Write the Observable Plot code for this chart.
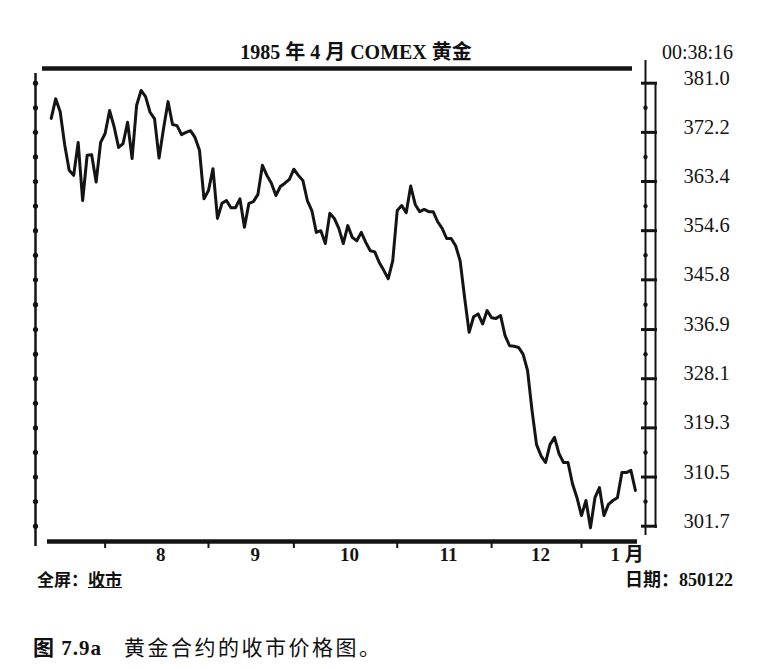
<!DOCTYPE html>
<html>
<head>
<meta charset="utf-8">
<script src="https://cdn.jsdelivr.net/npm/d3@7"></script>
<script src="https://cdn.jsdelivr.net/npm/@observablehq/plot@0.6"></script>
<style>
  body { margin: 0; background: #fff; }
  #wrap { position: relative; width: 782px; height: 669px; color: #111; font-family: "Liberation Serif", "Noto Sans CJK SC", serif; }
  #wrap .t { position: absolute; white-space: nowrap; line-height: 1; }
  #chart { position: absolute; left: 0; top: 0; }
  .cjk { font-family: "Noto Sans CJK SC", sans-serif; }
</style>
</head>
<body>
<div id="wrap">
  <div id="chart"></div>
  <div class="t" style="left:0;width:712px;top:41px;text-align:center;font-weight:bold;font-size:20px;">1985 <span class="cjk">年</span> 4 <span class="cjk">月</span> COMEX <span class="cjk">黄金</span></div>
  <div class="t" style="right:49px;top:42px;font-size:20px;">00:38:16</div>
  <div class="t" style="left:37px;top:570px;font-size:17px;font-weight:bold;"><span class="cjk">全屏：</span><span class="cjk" style="text-decoration:underline;">收市</span></div>
  <div class="t" style="right:49px;top:569px;font-size:18px;font-weight:bold;"><span class="cjk">日期：</span>850122</div>
  <div class="t" style="left:33px;top:636px;font-size:21px;"><b style="letter-spacing:1px;"><span class="cjk">图</span> 7.9a</b><span class="cjk" style="margin-left:22px;letter-spacing:2.5px;">黄金合约的收市价格图。</span></div>
</div>
<script>
// daily closes, mid-July 1984 to mid-January 1985 (trading days)
const closes = [
  374.7, 378.2, 375.9, 370.0, 365.4, 364.5, 370.4, 360.0, 368.1, 368.2,
  363.3, 370.4, 372.0, 376.1, 373.2, 369.5, 370.2, 374.0, 367.5, 377.0,
  379.7, 378.6, 375.8, 374.6, 367.6, 372.9, 377.7, 373.6, 373.4, 371.8,
  372.2, 372.5, 371.3, 369.0, 360.3, 361.8, 365.7, 356.8, 359.5, 360.0,
  358.7, 358.7, 360.3, 355.2, 359.5, 359.8, 361.1, 366.3, 364.5, 363.1,
  360.9, 362.5, 363.1, 363.8, 365.6, 364.5, 363.6, 360.0, 358.2, 354.3,
  354.6, 352.3, 357.7, 356.8, 355.0, 352.3, 355.5, 353.4, 352.8, 354.3,
  352.5, 351.0, 350.8, 348.9, 347.5, 346.0, 349.2, 358.2, 359.1, 357.8,
  362.6, 359.3, 358.0, 358.4, 358.0, 358.0, 356.2, 355.0, 353.2, 353.2,
  351.9, 349.2, 342.6, 336.4, 339.2, 339.7, 337.9, 340.3, 339.0, 338.9,
  339.4, 335.8, 334.0, 333.9, 333.7, 332.5, 329.6, 322.4, 316.3, 314.3,
  313.1, 316.3, 317.6, 314.7, 313.1, 313.1, 309.3, 306.8, 303.6, 306.3,
  301.4, 306.8, 308.6, 303.6, 305.6, 306.3, 306.8, 311.3, 311.3, 311.7,
  308.1
];
// first trading day of each month (index into closes)
const monthStarts = [12, 35, 54, 77, 98, 118];
const monthLabels = ["8", "9", "10", "11", "12", "1 月"];
const priceTicks = [381.0, 372.2, 363.4, 354.6, 345.8, 336.9, 328.1, 319.3, 310.5, 301.7];

const W = 782, H = 566;
const xRange = [50.7, 634.9], yRange = [525.7, 82.7];
const yDomain = [priceTicks[priceTicks.length - 1], priceTicks[0]];
// pixel -> data helpers, only for the decorative frame pieces
const px2i = p => (p - xRange[0]) * (closes.length - 1) / (xRange[1] - xRange[0]);
const px2v = p => yDomain[1] - (p - yRange[1]) * (yDomain[1] - yDomain[0]) / (yRange[0] - yRange[1]);

const halfTicks = d3.pairs(priceTicks, (a, b) => (a + b) / 2);
const allDots = priceTicks.concat(halfTicks);
const ends = monthStarts.concat([closes.length - 1]);
const labelPos = monthLabels.map((m, k) => ({m, x: (ends[k] + ends[k + 1]) / 2}));

const ink = "#141414";

const chart = Plot.plot({
  width: W,
  height: H,
  marginLeft: 42,
  marginRight: W - 637,
  marginTop: 68,
  marginBottom: H - 541,
  x: {domain: [0, closes.length - 1], range: xRange, axis: null},
  y: {domain: yDomain, range: yRange, axis: null},
  style: {fontFamily: "'Liberation Serif', serif", color: ink, background: "#fff"},
  marks: [
    // left axis with dots
    Plot.ruleX([px2i(35)], {y1: px2v(73), y2: px2v(546), stroke: ink, strokeWidth: 2.5}),
    Plot.dot(allDots, {x: px2i(35), y: d => d, r: 2.6, fill: ink, stroke: "none"}),
    // top and bottom heavy lines
    Plot.ruleY([px2v(68)], {x1: px2i(42), x2: px2i(632), stroke: ink, strokeWidth: 4.5}),
    Plot.ruleY([px2v(541)], {x1: px2i(47), x2: px2i(637), stroke: ink, strokeWidth: 4.5}),
    Plot.ruleX(monthStarts, {y1: px2v(542), y2: px2v(548), stroke: ink, strokeWidth: 2}),
    Plot.text(labelPos.slice(0, -1), {x: "x", y: px2v(554), text: "m", dx: 4, fontSize: 19, fontWeight: "bold", fill: ink}),
    Plot.text(labelPos.slice(-1), {x: "x", y: px2v(554), text: "m", dx: 2, textAnchor: "start", fontSize: 19, fontWeight: "bold", fill: ink, fontFamily: "'Liberation Serif', 'Noto Sans CJK SC', serif"}),
    // right double axis
    Plot.ruleX([px2i(645)], {y1: px2v(60), y2: px2v(535), stroke: ink, strokeWidth: 2}),
    Plot.ruleX([px2i(655)], {y1: priceTicks[0], y2: px2v(528), stroke: ink, strokeWidth: 2}),
    Plot.ruleY(priceTicks, {x1: px2i(641), x2: px2i(657), stroke: ink, strokeWidth: 3}),
    Plot.dot(halfTicks, {x: px2i(645), y: d => d, r: 2.2, fill: ink, stroke: "none"}),
    Plot.text(priceTicks, {x: px2i(683), y: d => d, text: d => d.toFixed(1), dy: -5, textAnchor: "start", fontSize: 20.5, fill: ink}),
    // closing price line
    Plot.line(closes, {x: (d, i) => i, y: d => d, stroke: ink, strokeWidth: 3, strokeLinejoin: "round"})
  ]
});

d3.select("#chart").append(() => chart);
</script>
</body>
</html>
